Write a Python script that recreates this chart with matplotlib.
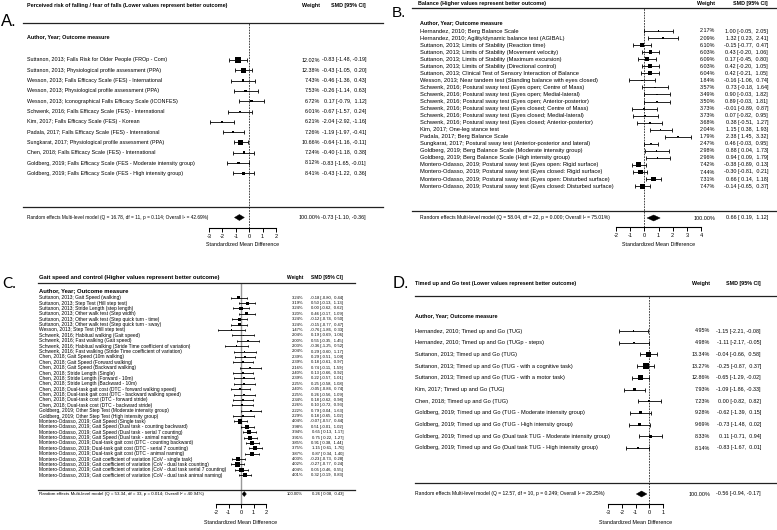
import matplotlib
matplotlib.use("Agg")
import matplotlib.pyplot as plt
from matplotlib.transforms import Affine2D
from matplotlib.lines import Line2D
from matplotlib.patches import Polygon

W, H = 777, 530
plt.rcParams['font.family'] = ['Liberation Sans', 'DejaVu Sans']

# ================= DATA =================
A_title = "Perceived risk of falling / fear of falls (Lower values represent better outcome)"
A_labels = [
    "Suttanon, 2013; Falls Risk for Older People (FROp - Com)",
    "Suttanon, 2013; Physiological profile assessment (PPA)",
    "Wesson, 2013; Falls Efficacy Scale (FES) - International",
    "Wesson, 2013; Physiological profile assessment (PPA)",
    "Wesson, 2013; Iconographical Falls Efficacy Scale (ICONFES)",
    "Schwenk, 2016; Falls Efficacy Scale (FES) - International",
    "Kim, 2017; Falls Efficacy Scale (FES) - Korean",
    "Padala, 2017; Falls Efficacy Scale (FES) - International",
    "Sungkarat, 2017; Physiological profile assessment (PPA)",
    "Chen, 2018; Falls Efficacy Scale (FES) - International",
    "Goldberg, 2019; Falls Efficacy Scale (FES - Moderate intensity group)",
    "Goldberg, 2019; Falls Efficacy Scale (FES - High intensity group)",
]
A_weight = [12.02, 12.38, 7.43, 7.53, 6.72, 6.01, 6.21, 7.26, 10.66, 7.24, 8.12, 8.41]
A_smd = [-0.83, -0.43, -0.46, -0.26, 0.17, -0.67, -2.04, -1.19, -0.64, -0.40, -0.83, -0.43]
A_lo = [-1.48, -1.05, -1.36, -1.14, -0.79, -1.57, -2.92, -1.97, -1.16, -1.18, -1.65, -1.22]
A_hi = [-0.19, 0.20, 0.43, 0.63, 1.12, 0.24, -1.16, -0.41, -0.11, 0.38, -0.01, 0.36]
A_Q, A_df, A_p, A_I2 = 16.78, 11, 0.114, 42.69
A_pooled = [-0.73, -1.10, -0.36]
A_ticks = [-3, -2, -1, 0, 1, 2]

B_title = "Balance (Higher values represent better outcome)"
B_labels = [
    "Hernandez, 2010; Berg Balance Scale",
    "Hernandez, 2010; Agility/dynamic balance test (AGIBAL)",
    "Suttanon, 2013; Limits of Stability (Reaction time)",
    "Suttanon, 2013; Limits of Stability (Movement velocity)",
    "Suttanon, 2013; Limits of Stability (Maximum excursion)",
    "Suttanon, 2013; Limits of Stability (Directional control)",
    "Suttanon, 2013; Clinical Test of Sensory Interaction of Balance",
    "Wesson, 2013; Near tandem test (Standing balance with eyes closed)",
    "Schwenk, 2016; Postural sway test (Eyes open; Centre of Mass)",
    "Schwenk, 2016; Postural sway test (Eyes open; Medial-lateral)",
    "Schwenk, 2016; Postural sway test (Eyes open; Anterior-posterior)",
    "Schwenk, 2016; Postural sway test (Eyes closed; Centre of Mass)",
    "Schwenk, 2016; Postural sway test (Eyes closed; Medial-lateral)",
    "Schwenk, 2016; Postural sway test (Eyes closed; Anterior-posterior)",
    "Kim, 2017; One-leg stance test",
    "Padala, 2017; Berg Balance Scale",
    "Sungkarat, 2017; Postural sway test (Anterior-posterior and lateral)",
    "Goldberg, 2019; Berg Balance Scale (Moderate intensity group)",
    "Goldberg, 2019; Berg Balance Scale (High intensity group)",
    "Montero-Odasso, 2019; Postural sway test (Eyes open: Rigid surface)",
    "Montero-Odasso, 2019; Postural sway test (Eyes closed: Rigid surface)",
    "Montero-Odasso, 2019; Postural sway test (Eyes open: Disturbed surface)",
    "Montero-Odasso, 2019; Postural sway test (Eyes closed: Disturbed surface)",
]
B_weight = [2.17, 2.09, 6.10, 6.03, 6.09, 6.03, 6.04, 1.84, 3.57, 3.49, 3.50, 3.73,
            3.73, 3.68, 2.04, 1.79, 2.47, 2.98, 2.96, 7.42, 7.44, 7.31, 7.47]
B_smd = [1.00, 1.32, -0.15, 0.43, 0.17, 0.42, 0.42, -0.16, 0.73, 0.90, 0.89, -0.01,
         0.07, 0.38, 1.15, 2.38, 0.46, 0.88, 0.94, -0.38, -0.30, 0.66, -0.14]
B_lo = [-0.05, 0.23, -0.77, -0.20, -0.45, -0.20, -0.21, -1.06, -0.18, -0.03, -0.03, -0.89,
        -0.82, -0.51, 0.38, 1.45, -0.03, 0.04, 0.09, -0.89, -0.81, 0.14, -0.65]
B_hi = [2.05, 2.41, 0.47, 1.06, 0.80, 1.05, 1.05, 0.74, 1.64, 1.82, 1.81, 0.87,
        0.95, 1.27, 1.93, 3.32, 0.95, 1.73, 1.79, 0.13, 0.21, 1.18, 0.37]
B_Q, B_df, B_p, B_I2 = 58.04, 22, 0.000, 75.01
B_pooled = [0.66, 0.19, 1.12]
B_ticks = [-2, -1, 0, 1, 2, 3, 4]

C_title = "Gait speed and control (Higher values represent better outcome)"
C_labels = [
    "Suttanon, 2013; Gait Speed (walking)",
    "Suttanon, 2013; Step Test (Hill step test)",
    "Suttanon, 2013; Stride Length (step length)",
    "Suttanon, 2013; Other walk test (Step width)",
    "Suttanon, 2013; Other walk test (Step quick turn - time)",
    "Suttanon, 2013; Other walk test (Step quick turn - sway)",
    "Wesson, 2013; Step Test (Hill step test)",
    "Schwenk, 2016; Habitual walking (Gait speed)",
    "Schwenk, 2016; Fast walking (Gait speed)",
    "Schwenk, 2016; Habitual walking (Stride Time coefficient of variation)",
    "Schwenk, 2016; Fast walking (Stride Time coefficient of variation)",
    "Chen, 2018; Gait Speed (10m walking)",
    "Chen, 2018; Gait Speed (Forward walking)",
    "Chen, 2018; Gait Speed (Backward walking)",
    "Chen, 2018; Stride Length (Single)",
    "Chen, 2018; Stride Length (Forward - 10m)",
    "Chen, 2018; Stride Length (Backward - 10m)",
    "Chen, 2018; Dual-task gait cost (DTC - forward walking speed)",
    "Chen, 2018; Dual-task gait cost (DTC - backward walking speed)",
    "Chen, 2018; Dual-task cost (DTC - forward stride)",
    "Chen, 2018; Dual-task cost (DTC - backward stride)",
    "Goldberg, 2019; Other Step Test (Moderate intensity group)",
    "Goldberg, 2019; Other Step Test (High intensity group)",
    "Montero-Odasso, 2019; Gait Speed (Single task)",
    "Montero-Odasso, 2019; Gait Speed (Dual task - counting backward)",
    "Montero-Odasso, 2019; Gait Speed (Dual task - serial 7 counting)",
    "Montero-Odasso, 2019; Gait Speed (Dual task - animal naming)",
    "Montero-Odasso, 2019; Dual-task gait cost (DTC - counting backward)",
    "Montero-Odasso, 2019; Dual-task gait cost (DTC - serial 7 counting)",
    "Montero-Odasso, 2019; Dual-task gait cost (DTC - animal naming)",
    "Montero-Odasso, 2019; Gait coefficient of variation (CoV - single task)",
    "Montero-Odasso, 2019; Gait coefficient of variation (CoV - dual task counting)",
    "Montero-Odasso, 2019; Gait coefficient of variation (CoV - dual task serial 7 counting)",
    "Montero-Odasso, 2019; Gait coefficient of variation (CoV - dual task animal naming)",
]
C_weight = [3.24, 3.19, 3.24, 3.20, 3.24, 3.24, 1.47, 2.04, 2.00, 2.03, 2.04, 2.39,
            2.39, 2.16, 2.40, 2.39, 2.25, 2.40, 2.25, 2.34, 2.26, 2.22, 2.29, 4.04,
            3.98, 3.94, 3.91, 3.85, 3.75, 3.87, 4.03, 4.02, 4.04, 4.01]
C_smd = [-0.18, 0.50, 0.00, 0.46, -0.12, -0.15, -0.76, 0.19, 0.55, -0.36, 0.29, 0.29,
         0.18, 0.74, 0.13, 0.22, 0.25, -0.05, 0.26, 0.18, 0.10, 0.79, 0.18, -0.07,
         0.51, 0.65, 0.75, 0.91, 1.15, 0.87, -0.23, -0.27, 0.05, 0.32]
C_lo = [-0.80, -0.13, -0.62, -0.17, -0.74, -0.77, -1.86, -0.69, -0.35, -1.25, -0.60, -0.51,
        -0.61, -0.11, -0.66, -0.57, -0.58, -0.84, -0.56, -0.62, -0.72, -0.04, -0.65, -0.57,
        -0.01, 0.13, 0.22, 0.38, 0.61, 0.34, -0.73, -0.77, -0.46, -0.19]
C_hi = [0.44, 1.13, 0.62, 1.09, 0.50, 0.47, 0.33, 1.06, 1.45, 0.52, 1.17, 1.09,
        0.97, 1.59, 0.92, 1.01, 1.08, 0.74, 1.09, 0.98, 0.93, 1.63, 1.02, 0.44,
        1.02, 1.17, 1.27, 1.44, 1.70, 1.40, 0.28, 0.24, 0.55, 0.83]
C_Q, C_df, C_p, C_I2 = 53.34, 33, 0.014, 40.94
C_pooled = [0.26, 0.08, 0.43]
C_ticks = [-2, -1, 0, 1, 2]

D_title = "Timed up and Go test (Lower values represent better outcome)"
D_labels = [
    "Hernandez, 2010; Timed up and Go (TUG)",
    "Hernandez, 2010; Timed up and Go (TUGp - steps)",
    "Suttanon, 2013; Timed up and Go (TUG)",
    "Suttanon, 2013; Timed up and Go (TUG - with a cognitive task)",
    "Suttanon, 2013; Timed up and Go (TUG - with a motor task)",
    "Kim, 2017; Timed up and Go (TUG)",
    "Chen, 2018; Timed up and Go (TUG)",
    "Goldberg, 2019; Timed up and Go (TUG - Moderate intensity group)",
    "Goldberg, 2019; Timed up and Go (TUG - High intensity group)",
    "Goldberg, 2019; Timed up and Go (Dual task TUG - Moderate intensity group)",
    "Goldberg, 2019; Timed up and Go (Dual task TUG - High intensity group)",
]
D_weight = [4.95, 4.98, 13.34, 13.27, 12.86, 7.93, 7.23, 9.28, 9.69, 8.33, 8.14]
D_smd = [-1.15, -1.11, -0.04, -0.25, -0.65, -1.09, 0.00, -0.62, -0.73, 0.11, -0.83]
D_lo = [-2.21, -2.17, -0.66, -0.87, -1.29, -1.86, -0.82, -1.39, -1.48, -0.71, -1.67]
D_hi = [-0.08, -0.05, 0.58, 0.37, -0.02, -0.33, 0.82, 0.15, 0.02, 0.94, 0.01]
D_Q, D_df, D_p, D_I2 = 12.57, 10, 0.249, 29.25
D_pooled = [-0.56, -0.94, -0.17]
D_ticks = [-3, -2, -1, 0, 1]

# ================= LAYOUT (pixels) =================
LAYOUT = {
    "A": dict(letter=(1, 21, 12), title=(27, 6), wr=320, sr=366, hline=23, lx=(23, 383),
              author=37, row1=60, step=10.3, bline=207, sumy=217.5, axis=227.5,
              tx=(209, 276), lab=27, fs=3.85, fsn=3.85, fsh=3.9, fsc=3.9, fss=3.4,
              maxsq=5.5, cap=1.2, diam=6, xlab=245, zero='dash'),
    "B": dict(letter=(392, 13, 11), title=(418, 3), wr=715, sr=768, hline=8, lx=(412, 777),
              author=23, row1=31, step=7.05, bline=211, sumy=218, axis=227,
              tx=(616, 701), lab=420, fs=4.15, fsn=3.9, fsh=3.9, fsc=3.9, fss=3.6,
              maxsq=5.0, cap=1.1, diam=6, xlab=245, zero='dash'),
    "C": dict(letter=(2, 284, 11), title=(39, 277.5), wr=303, sr=343, hline=283, lx=(38, 355),
              author=291, row1=297.7, step=5.38, bline=490, sumy=494, axis=504,
              tx=(216, 266), lab=39, fs=3.5, fsn=3.0, fsh=4.2, fsc=3.5, fss=3.2,
              maxsq=4.3, cap=0.9, diam=5, xlab=523, zero='solid'),
    "D": dict(letter=(393, 284, 12), title=(415, 284), wr=710, sr=761, hline=296, lx=(415, 777),
              author=316, row1=331, step=11.7, bline=483, sumy=494, axis=504,
              tx=(608, 663), lab=415, fs=4.05, fsn=3.9, fsh=3.9, fsc=3.9, fss=3.65,
              maxsq=5.5, cap=1.2, diam=6, xlab=522, zero='dash'),
}

fig = plt.figure(figsize=(W / 100, H / 100), dpi=100)
fig.patch.set_facecolor('white')
T = Affine2D().scale(1 / W, -1 / H).translate(0, 1) + fig.transFigure


def fmt_ci(e, l, h):
    def f(v):
        return f"{v:.2f}" if v < 0 else f" {v:.2f}"
    return f"{e:.2f} [{f(l)}, {f(h)}]"


def panel(key, title, labels, weight, smd, lo, hi, Q, df, p, I2, pooled, ticks):
    L = LAYOUT[key]
    lx, ly, lfs = L["letter"]
    fig.text(lx, ly, key + ".", transform=T, fontsize=lfs, ha='left', va='center',
             family=['Liberation Sans'] if key != 'C' else ['Lato', 'Liberation Sans'])
    # headers
    fig.text(L["title"][0], L["title"][1], title, transform=T, fontsize=L["fsh"],
             fontweight='bold', ha='left', va='center')
    fig.text(L["wr"], L["title"][1], "Weight", transform=T, fontsize=L["fsc"],
             fontweight='bold', ha='right', va='center')
    fig.text(L["sr"], L["title"][1], "SMD [95% CI]", transform=T, fontsize=L["fsc"],
             fontweight='bold', ha='right', va='center')
    for yy in (L["hline"], L["bline"]):
        fig.add_artist(Line2D(list(L["lx"]), [yy, yy], transform=T, lw=0.9, color='#222222'))
    fig.text(L["lab"], L["author"], "Author, Year; Outcome measure", transform=T,
             fontsize=L["fsh"], fontweight='bold', ha='left', va='center')

    # axes for forest marks
    x0, x1 = L["tx"]
    step, row1 = L["step"], L["row1"]
    ax = fig.add_axes([x0 / W, 1 - L["axis"] / H, (x1 - x0) / W, (L["axis"] - L["hline"]) / H])
    ax.set_xlim(ticks[0], ticks[-1])
    ax.set_ylim((L["axis"] - row1) / step, (L["hline"] - row1) / step)
    ax.patch.set_alpha(0)
    for s in ('top', 'right', 'left'):
        ax.spines[s].set_visible(False)
    ax.spines['bottom'].set_linewidth(0.8)
    ax.set_yticks([])
    ax.set_xticks(ticks)
    ax.set_xticklabels([str(t) for t in ticks])
    ax.tick_params(axis='x', length=3, width=0.7, pad=1.5, labelsize=4.0, direction='out')
    if L["zero"] == 'dash':
        ax.axvline(0, color='black', lw=0.5, ls=(0, (2.5, 1.5)))
    else:
        ax.axvline(0, color='#999999', lw=1.0)

    n = len(labels)
    ys = list(range(n))
    wmax = max(weight)
    xerr = [[s - l for s, l in zip(smd, lo)], [h - s for s, h in zip(smd, hi)]]
    ax.errorbar(smd, ys, xerr=xerr, fmt='none', ecolor='black', elinewidth=0.6,
                capsize=L["cap"], capthick=0.6)
    sizes = [(max(L["maxsq"] * (w / wmax) ** 1.5, 1.3) * 0.72) ** 2 for w in weight]
    ax.scatter(smd, ys, s=sizes, marker='s', color='black', linewidths=0, zorder=3)

    for i in range(n):
        y = row1 + i * step
        fig.text(L["lab"], y, labels[i], transform=T, fontsize=L["fs"], ha='left', va='center')
        fig.text(L["wr"], y, f"{weight[i]:.2f}%", transform=T, fontsize=L["fsn"], ha='right', va='center')
        fig.text(L["sr"], y, fmt_ci(smd[i], lo[i], hi[i]), transform=T, fontsize=L["fsn"],
                 ha='right', va='center')

    # pooled estimate
    ys_ = (L["sumy"] - row1) / step
    hh = L["diam"] / 2 / step
    e, l, h = pooled
    ax.add_patch(Polygon([[l, ys_], [e, ys_ - hh], [h, ys_], [e, ys_ + hh]], closed=True,
                         facecolor='black', edgecolor='black', lw=0.3, clip_on=False))
    summ = (f"Random effects Multi-level model (Q = {Q:.2f}, df = {df}, p = {p:.3f}; "
            f"Overall I\u00b2 = {I2:.2f}%)")
    fig.text(L["lab"], L["sumy"], summ, transform=T, fontsize=L["fss"], ha='left', va='center')
    fig.text(L["wr"], L["sumy"], "100.00%", transform=T, fontsize=L["fsn"], ha='right', va='center')
    fig.text(L["sr"], L["sumy"], fmt_ci(e, l, h), transform=T, fontsize=L["fsn"], ha='right', va='center')
    fig.text((x0 + x1) / 2, L["xlab"], "Standardized Mean Difference", transform=T,
             fontsize=3.9, ha='center', va='center')


panel("A", A_title, A_labels, A_weight, A_smd, A_lo, A_hi, A_Q, A_df, A_p, A_I2, A_pooled, A_ticks)
panel("B", B_title, B_labels, B_weight, B_smd, B_lo, B_hi, B_Q, B_df, B_p, B_I2, B_pooled, B_ticks)
panel("C", C_title, C_labels, C_weight, C_smd, C_lo, C_hi, C_Q, C_df, C_p, C_I2, C_pooled, C_ticks)
panel("D", D_title, D_labels, D_weight, D_smd, D_lo, D_hi, D_Q, D_df, D_p, D_I2, D_pooled, D_ticks)

fig.savefig("out.png", dpi=100, facecolor='white')
